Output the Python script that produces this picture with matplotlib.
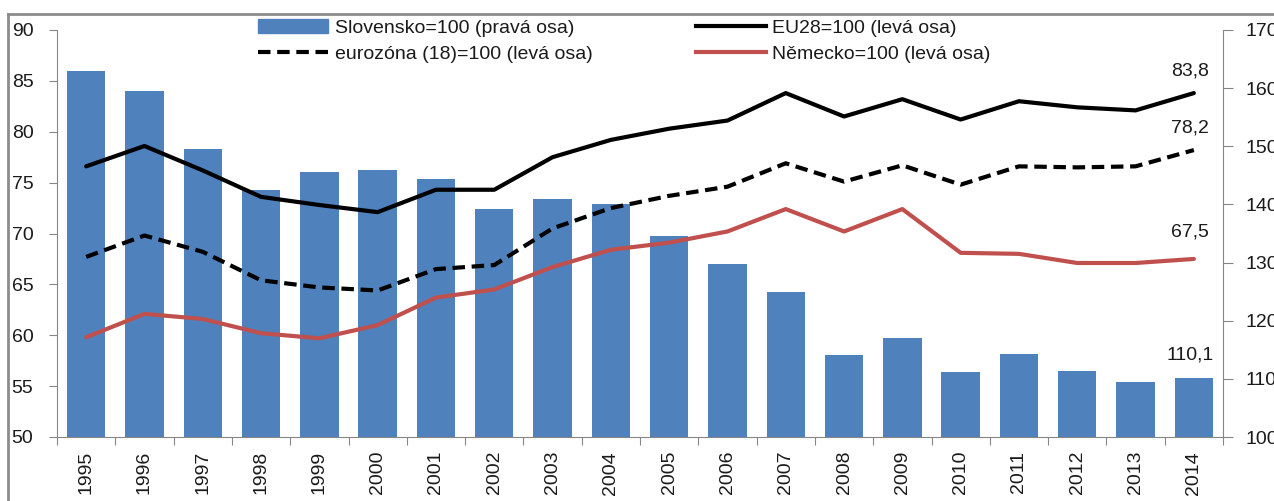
import matplotlib
matplotlib.use('Agg')
import matplotlib.pyplot as plt
from matplotlib.lines import Line2D
from matplotlib.patches import Patch
import numpy as np

plt.rcParams['font.family'] = ['Liberation Sans', 'DejaVu Sans']

# data
years = [str(y) for y in range(1995, 2015)]
slovensko = [163.0, 159.5, 149.5, 142.5, 145.6, 146.0, 144.3, 139.2, 141.0, 140.1,
             134.6, 129.8, 124.9, 114.1, 117.0, 111.2, 114.3, 111.4, 109.5, 110.1]
eu28 = [76.6, 78.6, 76.2, 73.6, 72.8, 72.1, 74.3, 74.3, 77.5, 79.2,
        80.3, 81.1, 83.8, 81.5, 83.2, 81.2, 83.0, 82.4, 82.1, 83.8]
eurozona = [67.7, 69.8, 68.2, 65.4, 64.7, 64.4, 66.5, 66.9, 70.5, 72.5,
            73.7, 74.6, 76.9, 75.1, 76.7, 74.8, 76.6, 76.5, 76.6, 78.2]
nemecko = [59.8, 62.1, 61.6, 60.2, 59.7, 61.0, 63.7, 64.5, 66.7, 68.4,
           69.1, 70.2, 72.4, 70.2, 72.4, 68.1, 68.0, 67.1, 67.1, 67.5]

labels = ['Slovensko=100 (pravá osa)', 'eurozóna (18)=100 (levá osa)',
          'EU28=100 (levá osa)', 'Německo=100 (levá osa)']

BLUE = '#4F81BD'
RED = '#C0504D'
GRAY = '#868686'
TXT = '#1a1a1a'
FS = 14

W, H = 1274, 501
fig = plt.figure(figsize=(W / 100, H / 100), dpi=100)
ax = fig.add_axes([57 / W, 1 - 437 / H, (1223 - 57) / W, (437 - 30) / H])
ax2 = ax.twinx()

x = np.arange(len(years))

# sloupce na pravé ose
ax2.bar(x, slovensko, width=0.66, color=BLUE, zorder=2)
ax2.set_ylim(100, 170)
ax2.set_yticks(np.arange(100, 171, 10))

# čáry na levé ose (nad sloupci)
ax.set_zorder(ax2.get_zorder() + 1)
ax.patch.set_visible(False)
ax.plot(x, eu28, color='black', lw=3, solid_capstyle='round', zorder=3)
ax.plot(x, eurozona, color='black', lw=3, linestyle=(0, (3, 1.6)), zorder=3)
ax.plot(x, nemecko, color=RED, lw=3, solid_capstyle='round', zorder=3)
ax.set_ylim(50, 90)
ax.set_yticks(np.arange(50, 91, 5))
ax.set_xlim(-0.5, len(years) - 0.5)

# osa x: značky na hranicích kategorií, popisky uprostřed
ax.set_xticks(np.arange(-0.5, len(years), 1))
ax.set_xticklabels([])
ax.set_xticks(x, minor=True)
ax.set_xticklabels(years, minor=True, rotation=90, fontsize=FS)
ax.tick_params(axis='x', which='major', length=6, color=GRAY, direction='out')
ax.tick_params(axis='x', which='minor', length=0, pad=10, labelcolor=TXT)
ax.tick_params(axis='y', length=6, color=GRAY, labelsize=FS, pad=11, labelcolor=TXT)
ax2.tick_params(axis='y', length=7, color=GRAY, labelsize=FS, pad=9, labelcolor=TXT)

for a in (ax, ax2):
    a.spines['top'].set_visible(False)
    for s in ('left', 'right', 'bottom'):
        a.spines[s].set_color(GRAY)
ax.spines['right'].set_visible(False)
ax2.spines['left'].set_visible(False)
ax2.spines['bottom'].set_visible(False)

# popisky posledních hodnot
for vals, a, dy in [(eu28, ax, 22), (eurozona, ax, 22), (nemecko, ax, 27), (slovensko, ax2, 23)]:
    a.annotate(f'{vals[-1]:.1f}'.replace('.', ','), (x[-1], vals[-1]),
               xytext=(-4, dy), textcoords='offset pixels',
               ha='center', va='center', fontsize=FS, color=TXT, zorder=5)

# legenda
handles = [Patch(color=BLUE),
           Line2D([], [], color='black', lw=3, linestyle=(0, (3, 1.6))),
           Line2D([], [], color='black', lw=3),
           Line2D([], [], color=RED, lw=3)]
leg = fig.legend(handles, labels, ncol=2, loc='upper left',
                 bbox_to_anchor=(258 / W, 1 - 19 / H), frameon=False, fontsize=FS,
                 borderpad=0, borderaxespad=0, handlelength=3.6, handletextpad=0.35,
                 columnspacing=5.3, labelspacing=0.45, handleheight=0.7)
for t in leg.get_texts():
    t.set_color(TXT)

# rámeček grafu
fig.add_artist(Line2D([8 / W, 1], [1 - 14 / H] * 2, color='#8c8c8c', lw=2))
fig.add_artist(Line2D([8 / W] * 2, [0, 1 - 14 / H], color='#8c8c8c', lw=2))

fig.savefig('out.png', dpi=100)
